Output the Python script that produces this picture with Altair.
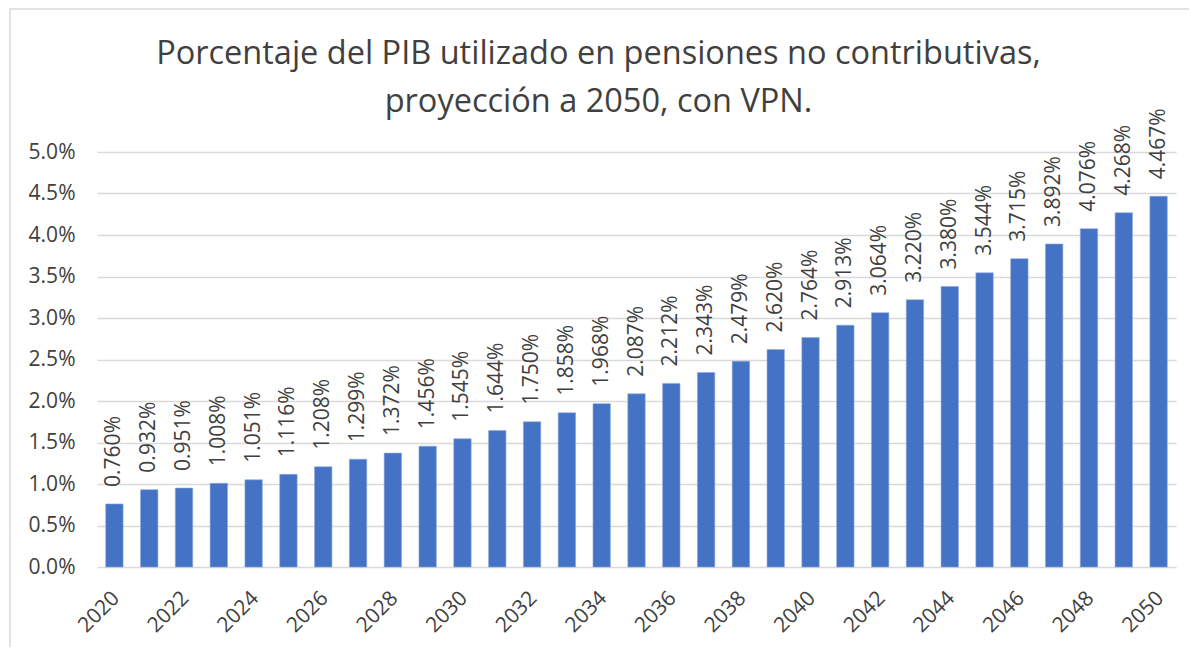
import altair as alt
import pandas as pd

years = list(range(2020, 2051))
values = [0.760, 0.932, 0.951, 1.008, 1.051, 1.116, 1.208, 1.299, 1.372, 1.456,
          1.545, 1.644, 1.750, 1.858, 1.968, 2.087, 2.212, 2.343, 2.479, 2.620,
          2.764, 2.913, 3.064, 3.220, 3.380, 3.544, 3.715, 3.892, 4.076, 4.268,
          4.467]
tick_years = [str(y) for y in range(2020, 2051, 2)]
y_ticks = [0.0, 0.5, 1.0, 1.5, 2.0, 2.5, 3.0, 3.5, 4.0, 4.5, 5.0]
title_lines = ["Porcentaje del PIB utilizado en pensiones no contributivas,",
               "proyección a 2050, con VPN."]

df = pd.DataFrame({"year": [str(y) for y in years], "v": values})

FONT = "Open Sans"
TXT = "#404040"

base = alt.Chart(df).encode(
    x=alt.X("year:N", sort=None,
            scale=alt.Scale(paddingInner=0.5, paddingOuter=0.25),
            axis=alt.Axis(title=None, values=tick_years, labelAngle=-45,
                          labelFontSize=21, labelColor=TXT, labelFont=FONT,
                          ticks=False, domain=False, labelPadding=20,
                          labelOffset=-6)),
    y=alt.Y("v:Q", scale=alt.Scale(domain=[0, 5], nice=False),
            axis=alt.Axis(title=None, values=y_ticks,
                          labelExpr="format(datum.value, '.1f') + '%'",
                          labelFontSize=21, labelColor=TXT, labelFont=FONT,
                          ticks=False, domain=False, labelPadding=22,
                          grid=True, gridColor="#d9d9d9", gridWidth=1.5)),
)

bars = base.mark_bar(color="#4472C4", stroke="#8faadc", strokeWidth=0.6)
labels = base.transform_calculate(
    lab="format(datum.v, '.3f') + '%'"
).mark_text(angle=270, align="left", baseline="middle", dx=17,
            fontSize=21, font=FONT, color=TXT).encode(text="lab:N")

frame = alt.Chart(pd.DataFrame({"f": [0]})).mark_rect(
    fill=None, stroke="#d9d9d9", strokeWidth=1.5
).encode(x=alt.value(-87), x2=alt.value(1093), y=alt.value(-143), y2=alt.value(510))

chart = (frame + bars + labels).properties(
    width=1079, height=415,
    padding={"left": 89, "top": 144, "right": 13, "bottom": 80},
    autosize=alt.AutoSizeParams(type="none"),
    title=alt.TitleParams(title_lines, font=FONT, fontSize=32.5, fontWeight="normal",
                          color=TXT, anchor="middle", dx=-38, offset=-136,
                          lineHeight=48, baseline="alphabetic"),
).configure_view(stroke=None)

chart.save("out.html", embed_options={"renderer": "svg", "actions": False})
